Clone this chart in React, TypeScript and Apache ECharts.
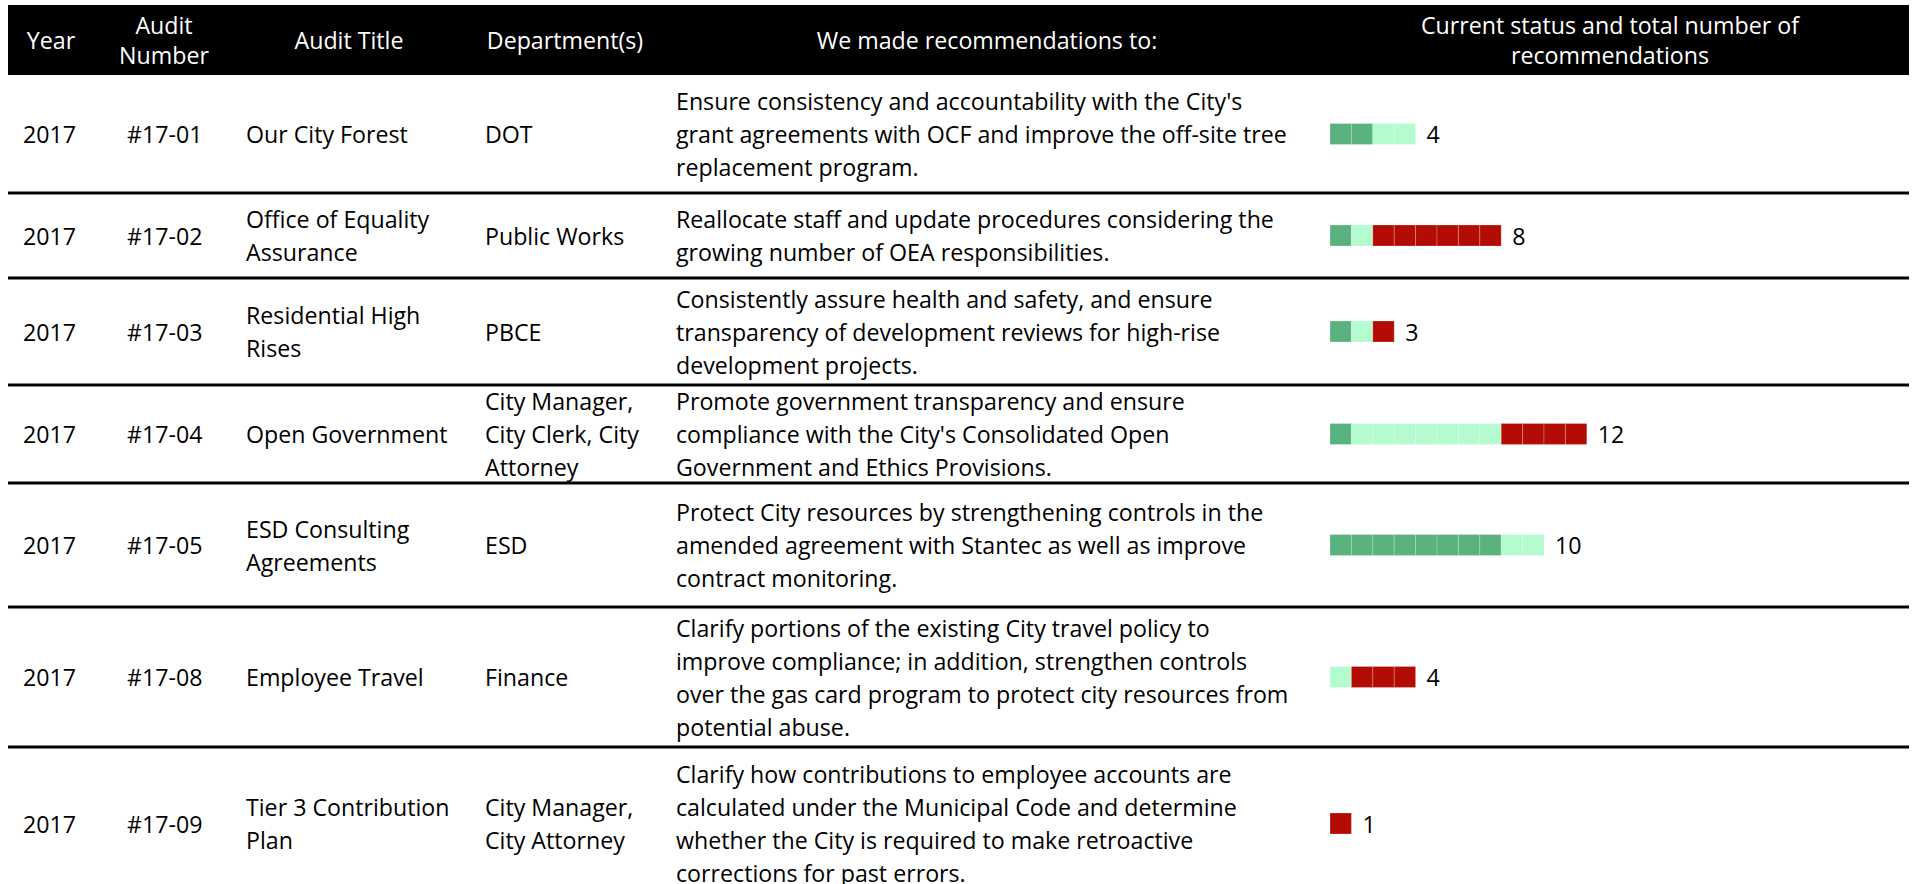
import React, { useEffect, useRef } from "react";
import * as echarts from "echarts";

// ---------- data ----------
const HEADERS = [
  "Year",
  "Audit\nNumber",
  "Audit Title",
  "Department(s)",
  "We made recommendations to:",
  "Current status and total number of\nrecommendations",
];
const YEARS = ["2017", "2017", "2017", "2017", "2017", "2017", "2017"];
const AUDIT_NUMBERS = ["#17-01", "#17-02", "#17-03", "#17-04", "#17-05", "#17-08", "#17-09"];
const AUDIT_TITLES = [
  "Our City Forest",
  "Office of Equality\nAssurance",
  "Residential High\nRises",
  "Open Government",
  "ESD Consulting\nAgreements",
  "Employee Travel",
  "Tier 3 Contribution\nPlan",
];
const DEPARTMENTS = [
  "DOT",
  "Public Works",
  "PBCE",
  "City Manager,\nCity Clerk, City\nAttorney",
  "ESD",
  "Finance",
  "City Manager,\nCity Attorney",
];
const RECOMMENDATIONS = [
  "Ensure consistency and accountability with the City's\ngrant agreements with OCF and improve the off-site tree\nreplacement program.",
  "Reallocate staff and update procedures considering the\ngrowing number of OEA responsibilities.",
  "Consistently assure health and safety, and ensure\ntransparency of development reviews for high-rise\ndevelopment projects.",
  "Promote government transparency and ensure\ncompliance with the City's Consolidated Open\nGovernment and Ethics Provisions.",
  "Protect City resources by strengthening controls in the\namended agreement with Stantec as well as improve\ncontract monitoring.",
  "Clarify portions of the existing City travel policy to\nimprove compliance; in addition, strengthen controls\nover the gas card program to protect city resources from\npotential abuse.",
  "Clarify how contributions to employee accounts are\ncalculated under the Municipal Code and determine\nwhether the City is required to make retroactive\ncorrections for past errors.",
];
const STATUS_NAMES = ["Implemented", "Partly implemented", "Not implemented"];
const IMPLEMENTED = [2, 1, 1, 1, 8, 0, 0];
const PARTLY_IMPLEMENTED = [2, 1, 1, 7, 2, 1, 0];
const NOT_IMPLEMENTED = [0, 6, 1, 4, 0, 3, 1];

// ---------- layout / style ----------
const STATUS_COLORS = ["#5ab27e", "#b4fbd0", "#b30c04"];
const ROW_EDGES = [75, 193, 278, 385, 483, 607, 747, 900];
const COL_X = [23, 127, 246, 485, 676];
const HEADER_CX = [51, 164, 349, 565, 987, 1610];
const TABLE_LEFT = 8;
const TABLE_RIGHT = 1909;
const HEADER_TOP = 5;
const BAR_LEFT = 1330;
const UNIT_PX = 21.4;
const AXIS_MAX = 20;
const BAR_H = 21;
const FONT = "'Open Sans', 'Noto Sans', sans-serif";
const FONT_SIZE = 23.2;
const LINE_H = 33;

export default function App() {
  const ref = useRef<HTMLDivElement>(null);

  useEffect(() => {
    if (!ref.current) return;
    const chart = echarts.init(ref.current, undefined, { renderer: "svg" });

    const rowCenter = (i: number) => (ROW_EDGES[i] + ROW_EDGES[i + 1]) / 2;
    const statusCounts = [IMPLEMENTED, PARTLY_IMPLEMENTED, NOT_IMPLEMENTED];

    const graphics: any[] = [];
    graphics.push({
      type: "rect",
      silent: true,
      z: 0,
      shape: { x: TABLE_LEFT, y: HEADER_TOP, width: TABLE_RIGHT - TABLE_LEFT, height: ROW_EDGES[0] - HEADER_TOP },
      style: { fill: "#000" },
    });
    HEADERS.forEach((h, i) => {
      graphics.push({
        type: "text",
        silent: true,
        z: 2,
        x: HEADER_CX[i],
        y: (HEADER_TOP + ROW_EDGES[0]) / 2,
        style: {
          text: h,
          fill: "#fff",
          fontFamily: FONT,
          fontSize: FONT_SIZE,
          lineHeight: 30,
          align: "center",
          verticalAlign: "middle",
        },
      });
    });
    for (let k = 1; k < ROW_EDGES.length - 1; k++) {
      graphics.push({
        type: "rect",
        silent: true,
        z: 1,
        shape: { x: TABLE_LEFT, y: ROW_EDGES[k] - 1.5, width: TABLE_RIGHT - TABLE_LEFT, height: 3 },
        style: { fill: "#000" },
      });
    }
    const columns = [YEARS, AUDIT_NUMBERS, AUDIT_TITLES, DEPARTMENTS, RECOMMENDATIONS];
    columns.forEach((col, c) => {
      col.forEach((txt, r) => {
        graphics.push({
          type: "text",
          silent: true,
          z: 2,
          x: COL_X[c],
          y: rowCenter(r),
          style: {
            text: txt,
            fill: "#000",
            fontFamily: FONT,
            fontSize: FONT_SIZE,
            lineHeight: LINE_H,
            align: "left",
            verticalAlign: "middle",
          },
        });
      });
    });

    const grids: any[] = [];
    const xAxes: any[] = [];
    const yAxes: any[] = [];
    const series: any[] = [];
    AUDIT_NUMBERS.forEach((num, r) => {
      grids.push({
        left: BAR_LEFT,
        width: UNIT_PX * AXIS_MAX,
        top: rowCenter(r) - BAR_H / 2,
        height: BAR_H,
        containLabel: false,
      });
      xAxes.push({ gridIndex: r, type: "value", min: 0, max: AXIS_MAX, show: false });
      yAxes.push({ gridIndex: r, type: "category", data: [num], show: false });
      const units: any[] = [];
      let pos = 0;
      statusCounts.forEach((arr, s) => {
        for (let u = 0; u < arr[r]; u++) {
          units.push([pos, pos + 1, 0, s]);
          pos += 1;
        }
      });
      series.push({
        type: "custom",
        name: num,
        xAxisIndex: r,
        yAxisIndex: r,
        silent: true,
        data: units,
        renderItem: (_p: any, api: any) => {
          const a = api.coord([api.value(0), 0]);
          const b = api.coord([api.value(1), 0]);
          const h = api.size([0, 1])[1];
          const s = api.value(3);
          return {
            type: "rect",
            shape: { x: a[0], y: a[1] - h / 2, width: b[0] - a[0], height: h },
            style: { fill: STATUS_COLORS[s], stroke: "rgba(255,255,255,0.22)", lineWidth: 1 },
          };
        },
      });
      series.push({
        type: "custom",
        name: num + " total",
        xAxisIndex: r,
        yAxisIndex: r,
        silent: true,
        data: [[pos, 0]],
        renderItem: (_p: any, api: any) => {
          const p = api.coord([api.value(0), 0]);
          return {
            type: "text",
            x: p[0] + 11,
            y: p[1],
            style: {
              text: String(api.value(0)),
              fill: "#000",
              fontFamily: FONT,
              fontSize: FONT_SIZE,
              align: "left",
              verticalAlign: "middle",
            },
          };
        },
      });
    });

    chart.setOption({
      animation: false,
      backgroundColor: "#fff",
      grid: grids,
      xAxis: xAxes,
      yAxis: yAxes,
      series,
      graphic: { elements: graphics },
    });

    return () => chart.dispose();
  }, []);

  return (
    <div
      ref={ref}
      style={{ position: "absolute", left: 0, top: 0, width: 1916, height: 884, overflow: "hidden" }}
    />
  );
}
